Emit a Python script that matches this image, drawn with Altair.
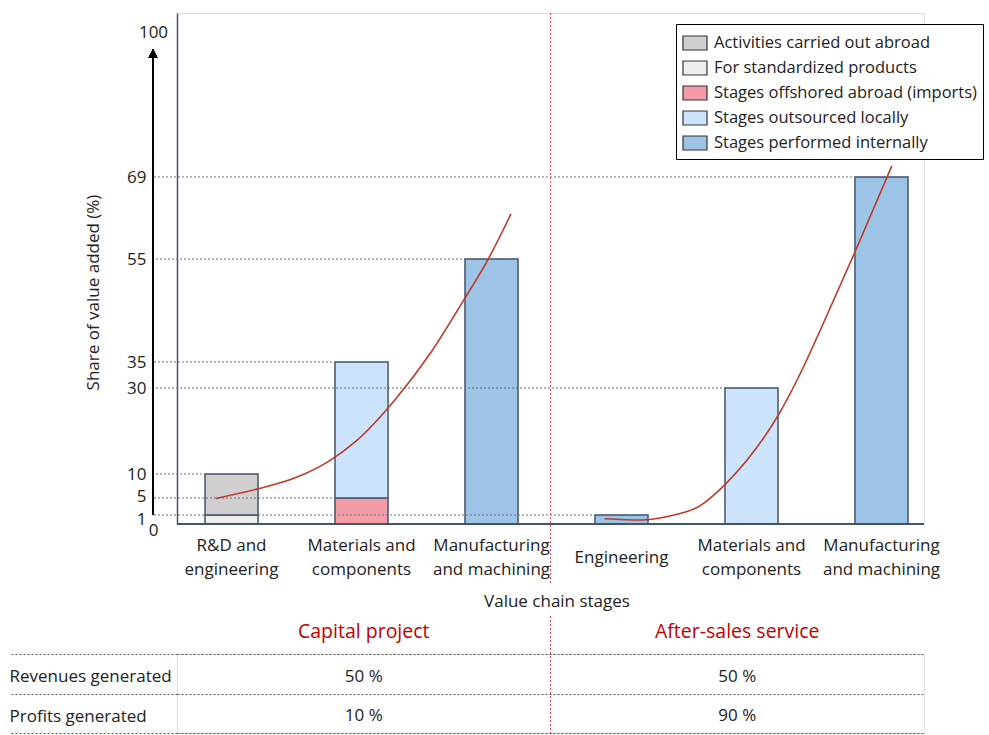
import json
import altair as alt
import pandas as pd

# ---------------- data ----------------
stage_keys = ["S1", "S2", "S3", "S4", "S5", "S6"]
stage_lines = [["R&D and", "engineering"], ["Materials and", "components"],
               ["Manufacturing", "and machining"], ["Engineering"],
               ["Materials and", "components"], ["Manufacturing", "and machining"]]

legend_items = ["Activities carried out abroad", "For standardized products",
                "Stages offshored abroad (imports)", "Stages outsourced locally",
                "Stages performed internally"]
legend_colors = ["#D0CECE", "#EDEDED", "#F49CA5", "#CCE4FB", "#9DC3E6"]

part_stage = ["S1", "S1", "S2", "S2", "S3", "S4", "S5", "S6"]
part_type = [legend_items[1], legend_items[0], legend_items[2], legend_items[3],
             legend_items[4], legend_items[4], legend_items[3], legend_items[4]]
part_start = [0, 1, 0, 5, 0, 0, 0, 0]
part_end = [1, 10, 5, 35, 55, 1, 30, 69]

y_ticks = [0, 1, 5, 10, 30, 35, 55, 69, 100]
ref_values = [69, 55, 35, 30, 10, 5, 1]
ref_stage = ["S6", "S3", "S2", "S5", "S1", "S2", "S4"]

left_cx = [-0.12, 0.20, 0.49, 0.75, 0.96, 1.25, 1.54, 1.80, 1.96, 2.15]
left_cy = [4.9, 6.9, 9.2, 13.0, 17.7, 27.0, 37.1, 47.6, 54.3, 62.7]
right_cx = [2.87, 3.15, 3.37, 3.60, 3.80, 3.96, 4.21, 4.37, 4.54, 4.80, 5.08]
right_cy = [0.59, 0.44, 0.89, 3.1, 7.9, 13.0, 23.9, 32.5, 41.8, 56.4, 71.7]

segments = ["Capital project", "After-sales service"]
table_rows = ["Revenues generated", "Profits generated"]
capital_values = ["50 %", "10 %"]
aftersales_values = ["50 %", "90 %"]

# ---------------- layout / style ----------------
FONT = "Open Sans"
W, H = 747, 511
SLATE = "#44546A"
TXT = "#222222"
RED_LINE = "#E0474C"

band_start, band_end, pad_inner = 28, 731, 0.592
step = (band_end - band_start) / (6 - pad_inner)
bw = step * (1 - pad_inner)
x_band = alt.Scale(domain=stage_keys, range=[band_start, band_end],
                   paddingInner=pad_inner, paddingOuter=0)
x_curve = alt.Scale(domain=[0, 5], range=[band_start + bw / 2, band_start + bw / 2 + 5 * step])
y_scale = alt.Scale(domain=[0, 1, 5, 10, 30, 35, 55, 69, 100, 108.7],
                    range=[511, 502, 485, 461, 375, 349, 246, 164, 36, 0],
                    nice=False, zero=False)
seg_scale = alt.Scale(domain=segments, paddingInner=0, paddingOuter=0)

label_expr = ""
for k, lines in zip(stage_keys, stage_lines):
    label_expr += f"datum.value === '{k}' ? {json.dumps(lines)} : "
label_expr += "''"

bars_df = pd.DataFrame({"stage": part_stage, "type": part_type,
                        "start": part_start, "end": part_end})
ref_df = pd.DataFrame({"stage": ref_stage, "value": ref_values})
curve_df = pd.DataFrame({
    "curve": ["L"] * len(left_cx) + ["R"] * len(right_cx),
    "cx": left_cx + right_cx,
    "cy": left_cy + right_cy,
})
div_df = pd.DataFrame({"segment": [segments[1]]})

y_axis = alt.Axis(
    values=y_ticks, ticks=False, tickSize=0, grid=False,
    domainColor=SLATE, domainWidth=1.5,
    labelFontSize=17, labelColor=TXT, labelOverlap=False, labelFlush=False,
    labelPadding={"condition": {"test": "datum.value === 0 || datum.value === 100", "value": 24}, "value": 31},
    labelAlign={"condition": {"test": "datum.value === 0 || datum.value === 100", "value": "center"}, "value": "right"},
    labelBaseline={"condition": [{"test": "datum.value === 100", "value": "bottom"},
                                 {"test": "datum.value === 0", "value": "top"}], "value": "middle"},
    labelOffset={"condition": [{"test": "datum.value === 100", "value": -8},
                               {"test": "datum.value === 1", "value": 4},
                               {"test": "datum.value === 5", "value": -2},
                               {"test": "datum.value === 0", "value": -2}], "value": 0},
    title="Share of value added (%)", titleFontSize=17, titleFontWeight="normal",
    titleColor=TXT, titleX=-75, titleY=279,
)

x_axis = alt.Axis(
    title="Value chain stages", labelExpr=label_expr, domain=False, ticks=False,
    labelAngle=0, labelFontSize=17, labelColor=TXT, labelLineHeight=24,
    labelPadding={"condition": {"test": "datum.value === 'S4'", "value": 25}, "value": 13},
    titleFontSize=17, titleFontWeight="normal", titleColor=TXT, titlePadding=16,
)

legend = alt.Legend(
    title=None, orient="none", legendX=499, legendY=11,
    symbolType="M-1,-0.583H1V0.583H-1Z", symbolSize=576,
    symbolStrokeColor="#333333", symbolStrokeWidth=1.2, symbolOpacity=1,
    labelFontSize=16.5, labelColor=TXT, labelOffset=6, labelLimit=400,
    padding=6, rowPadding=2, strokeColor="black", fillColor="white",
)

bars = alt.Chart(bars_df).mark_bar(stroke=SLATE, strokeWidth=1.5, opacity=1).encode(
    x=alt.X("stage:N", scale=x_band, axis=x_axis, sort=stage_keys),
    y=alt.Y("start:Q", scale=y_scale, axis=y_axis),
    y2="end:Q",
    color=alt.Color("type:N", scale=alt.Scale(domain=legend_items, range=legend_colors), legend=legend),
)

baseline = alt.Chart(bars_df).mark_rule(color=SLATE, strokeWidth=1.5).encode(
    y=alt.datum(0)
)

dotted = alt.Chart(ref_df).mark_rule(color="#5F6F86", strokeWidth=1.2, strokeDash=[2, 2]).encode(
    x=alt.X("stage:N", bandPosition=1),
    x2=alt.value(-24),
    y=alt.Y("value:Q"),
)

arrow = alt.Chart(bars_df).mark_rule(color="black", strokeWidth=1.3).encode(
    x=alt.value(-24), y=alt.datum(1), y2=alt.datum(100)
)
arrow_head = alt.Chart(bars_df).mark_point(
    shape="M0,0L-0.5,1L0.5,1Z", size=324, filled=True, color="black", opacity=1
).encode(x=alt.value(-24), y=alt.datum(100))

main = alt.layer(bars, dotted, baseline, arrow, arrow_head)

curves = alt.Chart(curve_df).mark_line(color="#BE3A26", strokeWidth=1.6, interpolate="monotone").encode(
    x=alt.X("cx:Q", scale=x_curve, axis=None),
    y=alt.Y("cy:Q"),
    detail="curve:N",
)

divider_top = alt.Chart(div_df).mark_rule(color=RED_LINE, strokeWidth=1, strokeDash=[2, 2]).encode(
    x=alt.X("segment:N", scale=seg_scale, bandPosition=0, axis=None),
    y=alt.value(0), y2=alt.value(570),
)

top = alt.layer(main, curves, divider_top).resolve_scale(x="independent").properties(width=W, height=H)

# ---------------- table ----------------
table_df = pd.DataFrame({
    "segment": [segments[0]] * 2 + [segments[1]] * 2,
    "row": table_rows + table_rows,
    "value": capital_values + aftersales_values,
})

table_text = alt.Chart(table_df).mark_text(fontSize=17, color=TXT, font=FONT, dy=3).encode(
    x=alt.X("segment:N", scale=seg_scale, sort=segments,
            axis=alt.Axis(orient="top", title=None, domain=False, ticks=False, labelAngle=0,
                          labelColor="#C00000", labelFontSize=19.5, labelPadding=13)),
    y=alt.Y("row:N", scale=alt.Scale(domain=table_rows, paddingInner=0, paddingOuter=0), sort=table_rows,
            axis=alt.Axis(title=None, domain=False, tickBand="extent", tickSize=168,
                          tickColor="#555555", tickDash=[2, 2], tickWidth=1.2,
                          grid=True, gridDash=[2, 2], gridColor="#555555", gridWidth=1.2,
                          labelAlign="left", labelPadding=0, labelOffset=3,
                          labelFontSize=17, labelColor=TXT)),
    text="value:N",
)

divider_bottom = alt.Chart(div_df).mark_rule(color=RED_LINE, strokeWidth=1, strokeDash=[2, 2]).encode(
    x=alt.X("segment:N", bandPosition=0),
    y=alt.value(-38), y2=alt.value(79),
)

table = alt.layer(table_text, divider_bottom).properties(width=W, height=79)

chart = alt.vconcat(top, table, spacing=5).properties(
    padding={"left": 7, "top": 12, "right": 0, "bottom": 0}
).configure_view(stroke=None).configure(font=FONT).configure_axis(
    labelFont=FONT, titleFont=FONT
).configure_legend(labelFont=FONT)

chart.save("out.html", embed_options={"renderer": "svg", "actions": False})
